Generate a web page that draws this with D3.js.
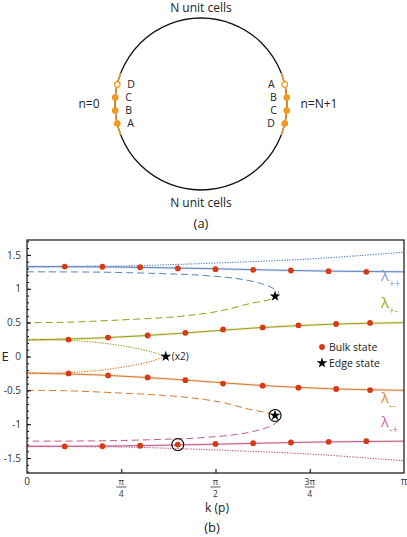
<!DOCTYPE html>
<html>
<head>
<meta charset="utf-8">
<script src="https://cdnjs.cloudflare.com/ajax/libs/d3/7.8.5/d3.min.js"></script>
<style>
body { margin: 0; background: #fff; }
svg { display: block; font-family: "Open Sans", sans-serif; fill: #222; }
</style>
</head>
<body>
<svg id="viz" width="407" height="537"></svg>
<script>

// ---- data (k in units of pi, E) ----

// ring sketch
const leftSites = ["D", "C", "B", "A"],
    rightSites = ["A", "B", "C", "D"],
    siteOffsets = [-19.5, -6.5, 6.5, 19.5]   // vertical offset of each site from ring centre

// bulk-state branches
const ppLine = [[0, 1.327], [0.25, 1.32], [0.5, 1.295], [0.75, 1.265], [1, 1.25]]
const ppDotted = [[0, 1.327], [0.25, 1.335], [0.4, 1.36], [0.5, 1.38], [0.75, 1.44], [1, 1.54]]
const pmLine = [[0, 0.245], [0.2, 0.275], [0.4, 0.34], [0.6, 0.42], [0.8, 0.475], [1, 0.5]]
const pmDotted = [[0, 0.245], [0.1, 0.24], [0.2, 0.2], [0.28, 0.13], [0.33, 0.07], [0.368, 0]]
const mmLine = [[0, -0.245], [0.2, -0.275], [0.4, -0.34], [0.6, -0.42], [0.8, -0.475], [1, -0.5]]
const mmDotted = [[0, -0.245], [0.1, -0.24], [0.2, -0.2], [0.28, -0.13], [0.33, -0.07], [0.368, 0]]
const mpLine = [[0, -1.327], [0.25, -1.32], [0.5, -1.295], [0.75, -1.265], [1, -1.25]]
const mpDotted = [[0, -1.327], [0.25, -1.335], [0.4, -1.36], [0.5, -1.38], [0.75, -1.44], [1, -1.54]]

// edge-state loops
const ppDashed = [[0, 1.25], [0.2, 1.245], [0.35, 1.225], [0.46, 1.2], [0.58, 1.13], [0.645, 1.03], [0.668, 0.95]]
const pmDashed = [[0.668, 0.95], [0.652, 0.86], [0.59, 0.78], [0.51, 0.67], [0.4, 0.59], [0.25, 0.54], [0.1, 0.505], [0, 0.5]]
const mmDashed = [[0, -0.5], [0.1, -0.505], [0.25, -0.54], [0.4, -0.59], [0.51, -0.67], [0.59, -0.78], [0.652, -0.86], [0.668, -0.95]]
const mpDashed = [[0.668, -0.95], [0.645, -1.03], [0.58, -1.13], [0.46, -1.2], [0.35, -1.225], [0.2, -1.245], [0, -1.25]]

// bulk states
const outerK = [0.1, 0.2, 0.3, 0.4, 0.5, 0.6, 0.7, 0.8, 0.9],
    innerK = [0.11, 0.215, 0.32, 0.42, 0.52, 0.625, 0.72, 0.82, 0.91]
const ppE = [1.327, 1.325, 1.318, 1.30, 1.29, 1.28, 1.27, 1.26, 1.25],
    pmE = [0.25, 0.28, 0.31, 0.35, 0.40, 0.43, 0.46, 0.48, 0.495],
    mmE = [-0.25, -0.28, -0.31, -0.35, -0.40, -0.43, -0.46, -0.48, -0.495],
    mpE = [-1.327, -1.325, -1.318, -1.30, -1.29, -1.28, -1.27, -1.26, -1.25]

// edge states
const edgeK = [0.368, 0.658, 0.658],
    edgeE = [0, 0.89, -0.87]

// circled markers
const circledK = [0.4, 0.658],
    circledE = [-1.30, -0.87]

// axes
const yTicks = [-1.5, -1, -0.5, 0, 0.5, 1, 1.5],
    yTickLabels = ["-1.5", "-1", "-0.5", "0", "0.5", "1", "1.5"],
    yMinor = d3.range(-17, 18).map(d => d / 10),
    xTicks = [0, 0.25, 0.5, 0.75, 1],
    xTickNum = ["0", "π", "π", "3π", "π"],
    xTickDen = [null, "4", "2", "4", null]

// ---- setup ----

const viz = d3.select("#viz"),
    dot_r = 2.9

const col = {
    blue: "#5b7fbf",
    olive: "#9c9c12",
    orange: "#d9782b",
    pink: "#c4588a",
    dot: "#d93a16",
    ring: "#f39a1e"
}

/**
 * Top panel: the ring of N unit cells with the two boundary cells
 */
function draw_ring() {

    const cx = 201, cy = 104, r = 86
    const g = viz.append("g").attr("id", "ring")

    g.append("circle")
        .attr("cx", cx).attr("cy", cy).attr("r", r)
        .attr("fill", "none").attr("stroke", "#111").attr("stroke-width", 1.3)

    // orange arcs on the left and right
    const arc = d3.arc().innerRadius(r).outerRadius(r)
    const span = 21 * Math.PI / 180
    ;[-Math.PI / 2, Math.PI / 2].forEach(a => {
        g.append("path")
            .attr("transform", `translate(${cx},${cy})`)
            .attr("d", arc({startAngle: a - span, endAngle: a + span}))
            .attr("fill", "none").attr("stroke", col.ring).attr("stroke-width", 1.4)
    })

    function sites(labels, side) {
        labels.forEach((lab, i) => {
            const dy = siteOffsets[i],
                dx = Math.sqrt(r * r - dy * dy) * side,
                hollow = i == 0
            g.append("circle")
                .attr("cx", cx + dx).attr("cy", cy + dy).attr("r", hollow ? 2.8 : 3.3)
                .attr("fill", hollow ? "#fff" : col.ring)
                .attr("stroke", col.ring).attr("stroke-width", hollow ? 1.2 : 0)
            g.append("text")
                .attr("x", side < 0 ? cx + dx + 10 : cx + dx - 10)
                .attr("y", cy + dy)
                .attr("dy", "0.35em")
                .attr("text-anchor", side < 0 ? "start" : "end")
                .style("font-size", "10.5px")
                .text(lab)
        })
    }
    sites(leftSites, -1)
    sites(rightSites, 1)

    const txt = (x, y, s, size) => g.append("text")
        .attr("x", x).attr("y", y).attr("dy", "0.35em")
        .attr("text-anchor", "middle").style("font-size", size + "px").text(s)

    txt(cx, 8, "N unit cells", 12)
    txt(cx, 203, "N unit cells", 12)
    txt(89, cy, "n=0", 12)
    txt(319, cy, "n=N+1", 12)
    txt(cx, 223, "(a)", 13)
}

/**
 * Bottom panel: spectrum against k
 */
function draw_spectrum() {

    const plot = {left: 27, right: 404, top: 240, bottom: 473}

    const x = d3.scaleLinear().domain([0, 1]).range([plot.left, plot.right]),
        y = d3.scaleLinear().domain([-1.72, 1.72]).range([plot.bottom, plot.top])

    const line = d3.line()
        .x(d => x(d[0]))
        .y(d => y(d[1]))
        .curve(d3.curveCatmullRom.alpha(0.5))

    const g = viz.append("g").attr("id", "spectrum")

    g.append("clipPath").attr("id", "clip")
        .append("rect")
        .attr("x", plot.left).attr("y", plot.top)
        .attr("width", plot.right - plot.left).attr("height", plot.bottom - plot.top)

    const curves = [
        {pts: ppDotted, c: col.blue, s: "dot"},
        {pts: mpDotted, c: col.pink, s: "dot"},
        {pts: pmDotted, c: col.olive, s: "dot"},
        {pts: mmDotted, c: col.orange, s: "dot"},
        {pts: ppDashed, c: col.blue, s: "dash"},
        {pts: pmDashed, c: col.olive, s: "dash"},
        {pts: mmDashed, c: col.orange, s: "dash"},
        {pts: mpDashed, c: col.pink, s: "dash"},
        {pts: ppLine, c: col.blue, s: "solid"},
        {pts: pmLine, c: col.olive, s: "solid"},
        {pts: mmLine, c: col.orange, s: "solid"},
        {pts: mpLine, c: col.pink, s: "solid"}
    ]

    const lines = g.append("g").attr("clip-path", "url(#clip)")

    curves.forEach(cv => {
        if (cv.s == "solid") {
            // soft halo under the solid branches
            lines.append("path")
                .attr("d", line(cv.pts))
                .attr("fill", "none").attr("stroke", cv.c)
                .attr("stroke-opacity", 0.18).attr("stroke-width", 2.6)
        }
        lines.append("path")
            .attr("d", line(cv.pts))
            .attr("fill", "none")
            .attr("stroke", cv.c)
            .attr("stroke-width", cv.s == "dot" ? 1.1 : 1)
            .attr("stroke-dasharray", cv.s == "dash" ? "7,4" : cv.s == "dot" ? "1.3,1.3" : null)
    })

    // bulk-state dots
    const dots = []
    outerK.forEach((k, i) => { dots.push([k, ppE[i]]); dots.push([k, mpE[i]]) })
    innerK.forEach((k, i) => { dots.push([k, pmE[i]]); dots.push([k, mmE[i]]) })

    g.append("g").selectAll("circle")
        .data(dots)
        .enter().append("circle")
        .attr("cx", d => x(d[0]))
        .attr("cy", d => y(d[1]))
        .attr("r", dot_r)
        .attr("fill", col.dot)

    // edge-state stars
    const star = d3.symbol().type(d3.symbolStar).size(36)
    g.append("g").selectAll("path")
        .data(edgeK.map((k, i) => [k, edgeE[i]]))
        .enter().append("path")
        .attr("d", star)
        .attr("transform", d => `translate(${x(d[0])},${y(d[1])})`)
        .attr("fill", "#000")

    g.append("g").selectAll("circle")
        .data(circledK.map((k, i) => [k, circledE[i]]))
        .enter().append("circle")
        .attr("cx", d => x(d[0]))
        .attr("cy", d => y(d[1]))
        .attr("r", 6)
        .attr("fill", "none").attr("stroke", "#000").attr("stroke-width", 1.1)

    // axes
    const yAxis = d3.axisLeft(y).tickValues(yTicks).tickSizeInner(-4).tickSizeOuter(0).tickPadding(6)
        .tickFormat((d, i) => yTickLabels[i])
    const ya = g.append("g").attr("transform", `translate(${plot.left},0)`).call(yAxis)
    ya.select(".domain").remove()
    ya.selectAll("text").style("font-size", "10px").style("font-family", "Open Sans").attr("fill", "#333")

    const ym = g.append("g").attr("transform", `translate(${plot.left},0)`)
        .call(d3.axisLeft(y).tickValues(yMinor).tickSize(-2).tickFormat(""))
    ym.select(".domain").remove()

    const xAxis = d3.axisBottom(x).tickValues(xTicks.slice(1, 4)).tickSizeInner(-4).tickSizeOuter(0).tickFormat("")
    const xa = g.append("g").attr("transform", `translate(0,${plot.bottom})`).call(xAxis)
    xa.select(".domain").remove()

    // fraction tick labels
    const xl = g.append("g").style("font-size", "9px").attr("fill", "#333")
    xTicks.forEach((v, i) => {
        const cx = x(v)
        xl.append("text")
            .attr("x", cx).attr("y", plot.bottom + 11.5)
            .attr("text-anchor", "middle")
            .style("font-size", xTickDen[i] ? "8.5px" : "10px")
            .text(xTickNum[i])
        if (xTickDen[i]) {
            xl.append("line")
                .attr("x1", cx - 5).attr("x2", cx + 5)
                .attr("y1", plot.bottom + 14).attr("y2", plot.bottom + 14)
                .attr("stroke", "#333").attr("stroke-width", 0.8)
            xl.append("text")
                .attr("x", cx).attr("y", plot.bottom + 24)
                .attr("text-anchor", "middle")
                .style("font-size", "8.5px")
                .text(xTickDen[i])
        }
    })

    // frame
    g.append("rect")
        .attr("x", plot.left).attr("y", plot.top)
        .attr("width", plot.right - plot.left).attr("height", plot.bottom - plot.top)
        .attr("fill", "none").attr("stroke", "#222").attr("stroke-width", 1.3)

    // branch labels
    const lambdas = [
        {sub: "++", c: "#7f9fd6", e: 1.12},
        {sub: "+-", c: "#a8a820", e: 0.72},
        {sub: "--", c: "#e08a3c", e: -0.68},
        {sub: "-+", c: "#cf6f98", e: -1.04}
    ]
    lambdas.forEach(l => {
        const t = g.append("text")
            .attr("x", 381).attr("y", y(l.e))
            .attr("fill", l.c).style("font-size", "15px")
        t.append("tspan").text("λ")
        t.append("tspan").attr("dx", 0).attr("dy", 6).style("font-size", "10px").text(l.sub)
    })

    // legend
    const lg = g.append("g").style("font-size", "10.5px")
    lg.append("circle").attr("cx", 322).attr("cy", 347).attr("r", dot_r).attr("fill", col.dot)
    lg.append("text").attr("x", 329).attr("y", 347).attr("dy", "0.35em").text("Bulk state")
    lg.append("path").attr("d", star).attr("transform", "translate(322,363)").attr("fill", "#000")
    lg.append("text").attr("x", 329).attr("y", 363).attr("dy", "0.35em").text("Edge state")

    g.append("text").attr("x", x(0.368) + 6).attr("y", y(0)).attr("dy", "0.35em")
        .style("font-size", "10px").text("(x2)")

    // axis titles
    g.append("text").attr("x", 5).attr("y", y(0)).attr("dy", "0.35em")
        .attr("text-anchor", "middle").style("font-size", "13px").text("E")
    g.append("text").attr("x", 217).attr("y", 508).attr("dy", "0.35em")
        .attr("text-anchor", "middle").style("font-size", "12px").text("k (p)")
    g.append("text").attr("x", 212).attr("y", 527).attr("dy", "0.35em")
        .attr("text-anchor", "middle").style("font-size", "13px").text("(b)")
}

draw_ring()
draw_spectrum()

</script>
</body>
</html>
